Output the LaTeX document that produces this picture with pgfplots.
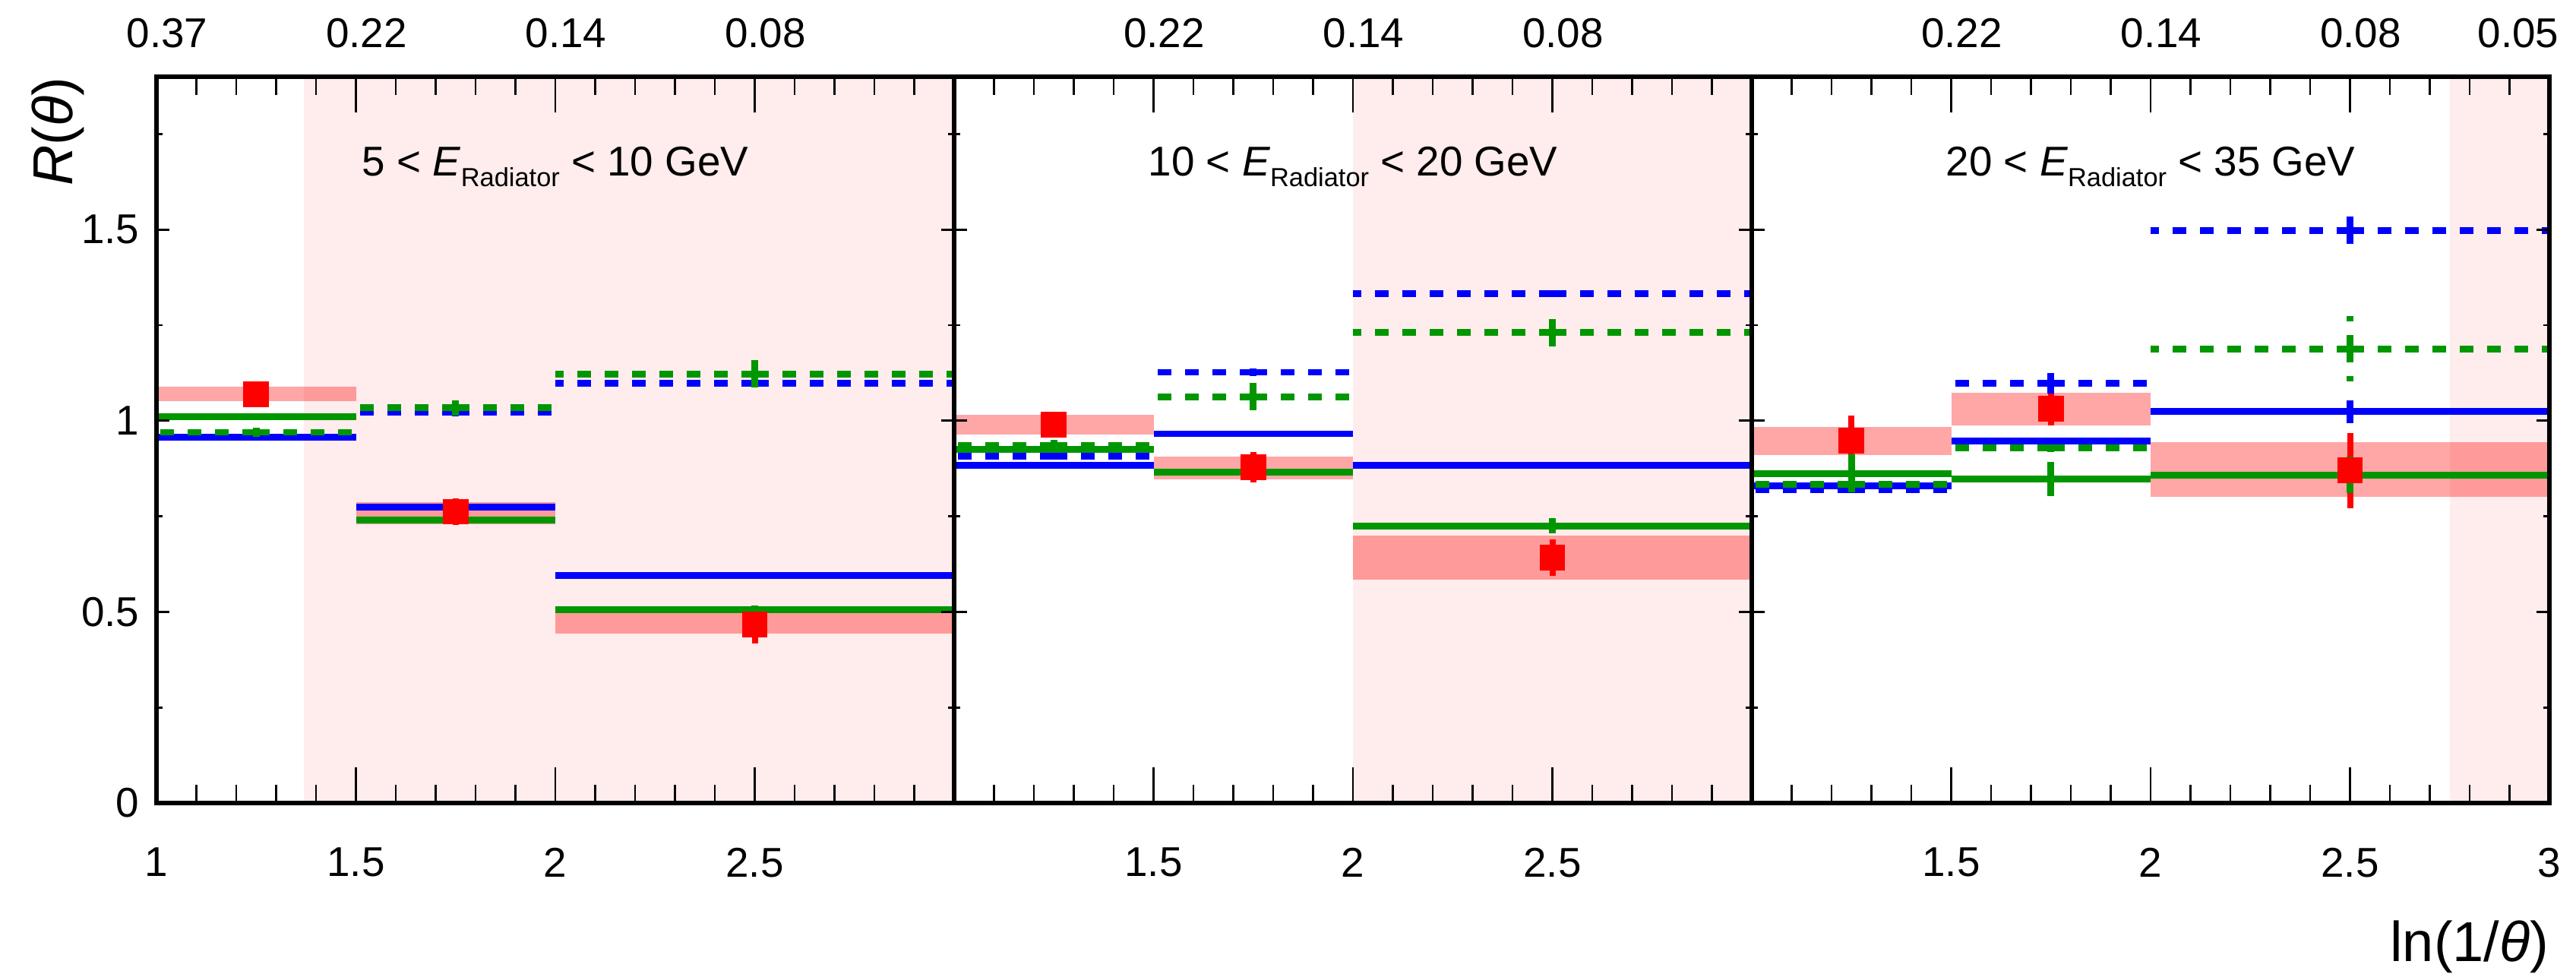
\documentclass[border=0pt]{standalone}
\usepackage{fontspec}
\setmainfont{Liberation Sans}
\usepackage{pgfplots}
\pgfplotsset{compat=1.18}

\definecolor{mblue}{RGB}{0,0,255}
\definecolor{mgreen}{RGB}{0,150,0}
\definecolor{mred}{RGB}{255,0,0}

\pgfplotsset{
  panel/.style={
    scale only axis, width=262.5pt, height=239pt,
    xmin=1, xmax=3, ymin=0, ymax=1.9,
    axis on top,
    tick align=inside,
    tick pos=both,
    xtick={1,1.5,2,2.5,3},
    minor xtick={1.1,1.2,1.3,1.4,1.6,1.7,1.8,1.9,2.1,2.2,2.3,2.4,2.6,2.7,2.8,2.9},
    ytick={0,0.5,1,1.5},
    minor ytick={0.25,0.75,1.25,1.75},
    major tick length=4.25pt, minor tick length=2pt,
    xtick style={/pgfplots/major tick length=11.75pt, /pgfplots/minor tick length=6pt},
    tick style={black, line width=0.7pt},
    axis line style={line width=1.4pt},
    tick label style={font=\fontsize{13.7}{16}\selectfont, inner sep=0pt},
    xticklabel style={anchor=north, yshift=-14.5pt},
    yticklabel style={anchor=east, xshift=-5.5pt},
  },
  toplab/.style={
    scale only axis, width=262.5pt, height=239pt,
    xmin=1, xmax=3, ymin=0, ymax=1.9,
    axis line style={draw=none},
    major tick length=0pt, minor tick length=0pt,
    tick style={draw=none},
    ytick=\empty, minor xtick={},
    xticklabel pos=upper,
    xticklabel style={anchor=south, inner sep=0pt, yshift=9.25pt, xshift=3.5pt,
      font=\fontsize{13.7}{16}\selectfont},
  },
  bg/.style={draw=none, fill=mred, fill opacity=0.075, forget plot},
  band/.style={draw=none, fill=mred, fill opacity=0.35, forget plot},
  dat/.style={color=mred, only marks, mark=square*, mark size=4.1pt,
    mark options={draw=mred, fill=mred, line width=0pt},
    error bars/.cd, y dir=both, y explicit, error mark=none,
    error bar style={draw=mred, line width=2pt, solid}},
  msolid/.style={draw=none, mark=none,
    error bars/.cd, x dir=both, x explicit, y dir=both, y explicit, error mark=none,
    error bar style={draw=#1, line width=2.2pt, solid}},
  mdash/.style={draw=none, mark=none,
    error bars/.cd, x dir=both, x explicit, y dir=both, y explicit, error mark=none,
    error bar style={draw=#1, line width=2.2pt, dash pattern=on 4.5pt off 4.5pt}},
}

\begin{document}
\begin{tikzpicture}
\useasboundingbox (-51.5pt,-57pt) rectangle (796.25pt,264.25pt);

% ---------------- Panel 1 ----------------
\begin{axis}[panel, name=p1, at={(0pt,0pt)}, anchor=south west,
  xticklabels={1,1.5,2,2.5,}, yticklabels={0,0.5,1,1.5}]
\addplot[bg] coordinates {(1.37,0) (3,0) (3,1.9) (1.37,1.9)};
\addplot[band] coordinates {(1,1.052) (1.5,1.052) (1.5,1.089) (1,1.089)};
\addplot[band] coordinates {(1.5,0.729) (2,0.729) (2,0.788) (1.5,0.788)};
\addplot[band] coordinates {(2,0.443) (3,0.443) (3,0.497) (2,0.497)};
\addplot[dat] coordinates {(1.25,1.070) +- (0,0.015) (1.75,0.762) +- (0,0.035) (2.5,0.467) +- (0,0.05)};
\addplot[msolid=mblue] coordinates {(1.25,0.957) +- (0.25,0.005) (1.75,0.774) +- (0.25,0.005) (2.5,0.596) +- (0.5,0.005)};
\addplot[mdash=mblue] coordinates {(1.25,0.960) +- (0.25,0.005) (1.75,1.022) +- (0.25,0.01) (2.5,1.098) +- (0.5,0.01)};
\addplot[msolid=mgreen] coordinates {(1.25,1.011) +- (0.25,0.005) (1.75,0.740) +- (0.25,0.008) (2.5,0.506) +- (0.5,0.01)};
\addplot[mdash=mgreen] coordinates {(1.25,0.970) +- (0.25,0.012) (1.75,1.034) +- (0.25,0.02) (2.5,1.122) +- (0.5,0.037)};
\node[anchor=base, font=\fontsize{13.7}{16}\selectfont] at (axis cs:2,1.641)
  {5 < \textit{E}\raisebox{-3.65pt}{\fontsize{8.6}{9}\selectfont Radiator} < 10 GeV};
\end{axis}
\begin{axis}[toplab, at={(0pt,0pt)}, anchor=south west,
  xtick={1,1.5,2,2.5}, xticklabels={0.37,0.22,0.14,0.08}]
\end{axis}

% ---------------- Panel 2 ----------------
\begin{axis}[panel, name=p2, at={(262.5pt,0pt)}, anchor=south west,
  xticklabels={,1.5,2,2.5,}, yticklabels={,,,}]
\addplot[bg] coordinates {(2,0) (3,0) (3,1.9) (2,1.9)};
\addplot[band] coordinates {(1,0.963) (1.5,0.963) (1.5,1.016) (1,1.016)};
\addplot[band] coordinates {(1.5,0.847) (2,0.847) (2,0.907) (1.5,0.907)};
\addplot[band] coordinates {(2,0.584) (3,0.584) (3,0.700) (2,0.700)};
\addplot[dat] coordinates {(1.25,0.990) +- (0,0.02) (1.75,0.878) +- (0,0.04) (2.5,0.642) +- (0,0.048)};
\addplot[msolid=mblue] coordinates {(1.25,0.884) +- (0.25,0.005) (1.75,0.966) +- (0.25,0.005) (2.5,0.884) +- (0.5,0.005)};
\addplot[mdash=mblue] coordinates {(1.25,0.908) +- (0.25,0.005) (1.75,1.127) +- (0.25,0.01) (2.5,1.333) +- (0.5,0.008)};
\addplot[msolid=mgreen] coordinates {(1.25,0.925) +- (0.25,0.005) (1.75,0.866) +- (0.25,0.02) (2.5,0.725) +- (0.5,0.02)};
\addplot[mdash=mgreen] coordinates {(1.25,0.935) +- (0.25,0.015) (1.75,1.063) +- (0.25,0.037) (2.5,1.231) +- (0.5,0.044)};
\node[anchor=base, font=\fontsize{13.7}{16}\selectfont] at (axis cs:2,1.641)
  {10 < \textit{E}\raisebox{-3.65pt}{\fontsize{8.6}{9}\selectfont Radiator} < 20 GeV};
\end{axis}
\begin{axis}[toplab, at={(262.5pt,0pt)}, anchor=south west,
  xtick={1.5,2,2.5}, xticklabels={0.22,0.14,0.08}]
\end{axis}

% ---------------- Panel 3 ----------------
\begin{axis}[panel, name=p3, at={(525pt,0pt)}, anchor=south west,
  xticklabels={,1.5,2,2.5,3}, yticklabels={,,,}]
\addplot[bg] coordinates {(2.75,0) (3,0) (3,1.9) (2.75,1.9)};
\addplot[band] coordinates {(1,0.910) (1.5,0.910) (1.5,0.983) (1,0.983)};
\addplot[band] coordinates {(1.5,0.988) (2,0.988) (2,1.073) (1.5,1.073)};
\addplot[band] coordinates {(2,0.801) (3,0.801) (3,0.944) (2,0.944)};
\addplot[dat] coordinates {(1.25,0.948) +- (0,0.065) (1.75,1.032) +- (0,0.045) (2.5,0.870) +- (0,0.098)};
\addplot[msolid=mblue] coordinates {(1.25,0.829) +- (0.25,0.005) (1.75,0.947) +- (0.25,0.005) (2.5,1.024) +- (0.5,0.03)};
\addplot[mdash=mblue] coordinates {(1.25,0.820) +- (0.25,0.005) (1.75,1.098) +- (0.25,0.027) (2.5,1.498) +- (0.5,0.04)};
\addplot[msolid=mgreen] coordinates {(1.25,0.862) +- (0.25,0.05) (1.75,0.848) +- (0.25,0.045) (2.5,0.858) +- (0.5,0.048)};
\addplot[mdash=mgreen] coordinates {(1.25,0.833) +- (0.25,0.01) (1.75,0.929) +- (0.25,0.01) (2.5,1.188) +- (0.5,0.085)};
\node[anchor=base, font=\fontsize{13.7}{16}\selectfont] at (axis cs:2,1.641)
  {20 < \textit{E}\raisebox{-3.65pt}{\fontsize{8.6}{9}\selectfont Radiator} < 35 GeV};
\end{axis}
\begin{axis}[toplab, at={(525pt,0pt)}, anchor=south west,
  xtick={1.5,2,2.5,2.895}, xticklabels={0.22,0.14,0.08,0.05}]
\end{axis}

% axis titles
\node[rotate=90, anchor=south east, inner sep=0pt, font=\fontsize{18.5}{20}\selectfont]
  at ([xshift=-23.5pt]p1.north west) {\textit{R}(\textit{θ})};
\node[anchor=north east, inner sep=0pt, font=\fontsize{18.5}{20}\selectfont]
  at ([yshift=-38.5pt]p3.south east) {ln(1/\textit{θ})};
\end{tikzpicture}
\end{document}
